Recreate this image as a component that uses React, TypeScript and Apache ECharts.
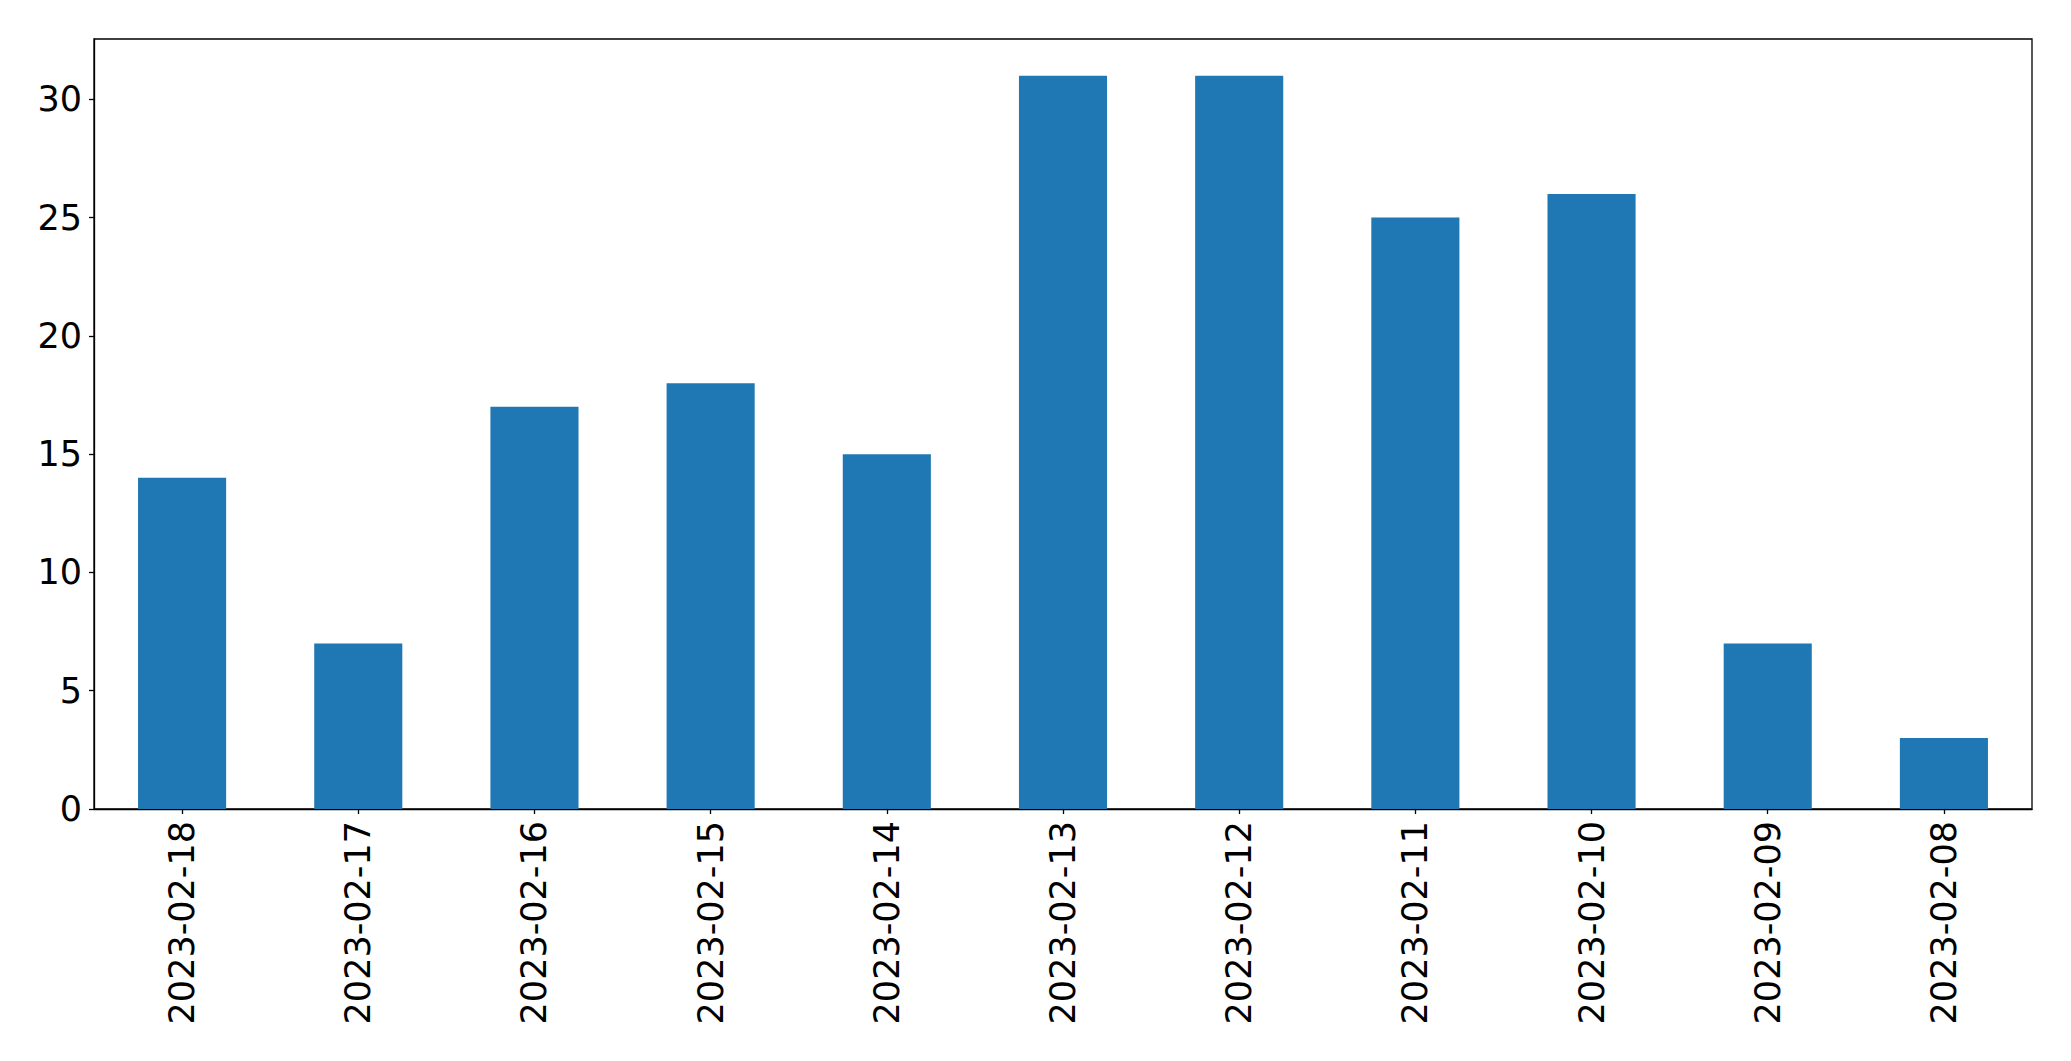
import React, { useEffect, useRef } from "react";
import * as echarts from "echarts";

const categories = [
  "2023-02-18", "2023-02-17", "2023-02-16", "2023-02-15", "2023-02-14", "2023-02-13",
  "2023-02-12", "2023-02-11", "2023-02-10", "2023-02-09", "2023-02-08",
];
const values = [14, 7, 17, 18, 15, 31, 31, 25, 26, 7, 3];
const yMax = 32.55;

export default function App() {
  const ref = useRef<HTMLDivElement>(null);
  useEffect(() => {
    if (!ref.current) return;
    const chart = echarts.init(ref.current, undefined, { renderer: "svg" });
    const font = "DejaVu Sans";
    chart.setOption({
      animation: false,
      backgroundColor: "#ffffff",
      grid: {
        left: 94,
        top: 39,
        right: 39,
        bottom: 252,
        show: true,
        borderColor: "#000000",
        borderWidth: 1.3,
        backgroundColor: "transparent",
      },
      xAxis: {
        type: "category",
        data: categories,
        axisLine: { show: true, lineStyle: { color: "#000000", width: 1.3 } },
        axisTick: { show: true, alignWithLabel: true, length: 5, lineStyle: { color: "#000000", width: 1.3 } },
        axisLabel: { rotate: 90, margin: 12, color: "#000000", fontSize: 35, fontFamily: font },
        splitLine: { show: false },
      },
      yAxis: {
        type: "value",
        min: 0,
        max: yMax,
        interval: 5,
        axisLine: { show: true, lineStyle: { color: "#000000", width: 1.3 } },
        axisTick: { show: true, length: 5, lineStyle: { color: "#000000", width: 1.3 } },
        axisLabel: { margin: 12, color: "#000000", fontSize: 35, fontFamily: font, showMaxLabel: false },
        splitLine: { show: false },
      },
      series: [
        {
          type: "bar",
          data: values,
          barWidth: "50%",
          itemStyle: { color: "#1f77b4" },
        },
      ],
    });
    return () => chart.dispose();
  }, []);
  return (
    <div
      ref={ref}
      style={{ position: "fixed", left: 0, top: 0, width: 2071, height: 1061, background: "#fff" }}
    />
  );
}
